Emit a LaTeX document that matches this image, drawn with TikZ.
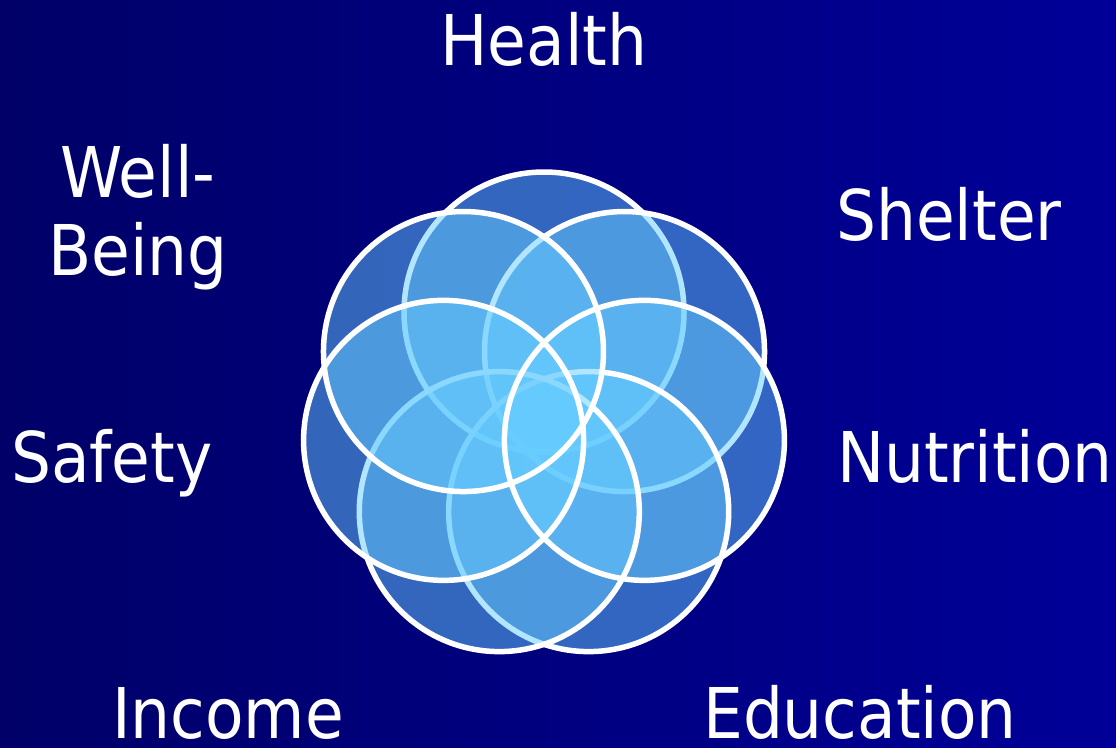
\documentclass[tikz,border=0pt]{standalone}
\usepackage{fontspec}
\setmainfont{DejaVu Sans Condensed}
\usepackage{tikz}
\usetikzlibrary{positioning}

\definecolor{bgleft}{RGB}{0,0,104}
\definecolor{bgright}{RGB}{0,0,152}
\definecolor{petalblue}{RGB}{102,204,255}

\tikzset{
  petal/.style={fill=petalblue, fill opacity=0.5},
  rim/.style={draw=white, line width=5.5pt},
  need/.style={text=white, font=\fontsize{70}{78}\selectfont, inner sep=0pt, anchor=base, align=center}
}

\begin{document}
\begin{tikzpicture}[x=1pt,y=-1pt]
\shade[left color=bgleft, right color=bgright] (0,0) rectangle (1116,747);

% seven centres on a slightly squashed ring, top first, then anticlockwise
\foreach \k in {0,...,6}
  \coordinate (c\k) at ({544+103*cos(90+\k*360/7)},{417-105*sin(90+\k*360/7)});

% fills and rims in the order that gives the pale rim parts
\path[petal] (c0) circle (140);
\draw[rim] (c0) circle (140);
\path[petal] (c6) circle (140);
\draw[rim] (c6) circle (140);
\path[petal] (c5) circle (140);
\path[petal] (c4) circle (140);
\draw[rim] (c4) circle (140);
\path[petal] (c3) circle (140);
\draw[rim] (c3) circle (140);
\path[petal] (c2) circle (140);
\path[petal] (c1) circle (140);
\draw[rim] (c5) circle (140);
\draw[rim] (c2) circle (140);
\draw[rim] (c1) circle (140);

\node[need] (health) at (544,65) {Health};
\node[need] (wellbeing) at (138,275) {Well-\\Being};
\node[need] (shelter) at (949,240) {Shelter};
\node[need] (safety) at (112,482) {Safety};
\node[need] (nutrition) at (975,482) {Nutrition};
\node[need] (income) at (228,738) {Income};
\node[need] (education) at (860,738) {Education};
\end{tikzpicture}
\end{document}
